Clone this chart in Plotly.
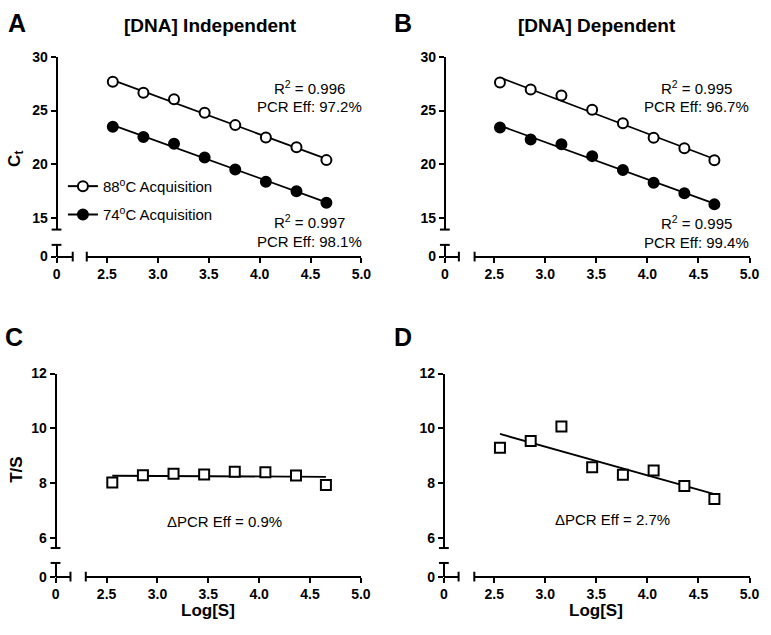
import numpy as np
import plotly.graph_objects as go

W, H = 771, 635
FONT = "Liberation Sans, Arial, sans-serif"

# ---------------- data ----------------
log_s = [2.556, 2.857, 3.158, 3.459, 3.760, 4.061, 4.362, 4.656]
a_88 = [27.68, 26.65, 26.05, 24.79, 23.65, 22.50, 21.60, 20.40]
a_74 = [23.50, 22.54, 21.91, 20.65, 19.53, 18.40, 17.50, 16.44]
b_88 = [27.61, 26.95, 26.41, 25.07, 23.82, 22.47, 21.51, 20.38]
b_74 = [23.43, 22.32, 21.87, 20.77, 19.48, 18.29, 17.33, 16.29]
c_ts = [8.02, 8.28, 8.34, 8.31, 8.41, 8.39, 8.27, 7.92]
d_ts = [9.29, 9.53, 10.06, 8.57, 8.30, 8.45, 7.89, 7.41]

x_ticks = [2.5, 3.0, 3.5, 4.0, 4.5, 5.0]
ct_ticks = [15, 20, 25, 30]
ts_ticks = [6, 8, 10, 12]

fig = go.Figure()

# panel geometry in pixels
panels = [
    dict(yx=53.5, xl_end=70.0, xr_start=84.3, x25=105.0, x50=364.0,
         ytop_val=30, ytop_px=50.0, ybot_val=15, ybot_px=215.7, yup_end=227.3, ylo_top=243.0, y0=255.0,
         yticks=ct_ticks),
    dict(yx=449.0, xl_end=463.3, xr_start=479.3, x25=499.3, x50=759.3,
         ytop_val=30, ytop_px=50.0, ybot_val=15, ybot_px=215.7, yup_end=227.3, ylo_top=243.0, y0=255.0,
         yticks=ct_ticks),
    dict(yx=52.5, xl_end=67.7, xr_start=83.3, x25=104.5, x50=363.5,
         ytop_val=12, ytop_px=375.0, ybot_val=6, ybot_px=543.3, yup_end=554.0, ylo_top=569.3, y0=583.3,
         yticks=ts_ticks),
    dict(yx=448.0, xl_end=463.0, xr_start=479.0, x25=499.3, x50=759.3,
         ytop_val=12, ytop_px=375.0, ybot_val=6, ybot_px=543.3, yup_end=554.0, ylo_top=569.3, y0=583.3,
         yticks=ts_ticks),
]

def fx(px):
    return px / W

def fy(py):
    return 1 - py / H

axis_common = dict(showline=True, linecolor="black", linewidth=2, ticks="outside",
                   ticklen=5, tickwidth=2, tickcolor="black", showgrid=False, zeroline=False,
                   tickfont=dict(family=FONT, size=14, color="black", weight="bold"),
                   fixedrange=True)
shapes = []
layout_axes = {}
for i, p in enumerate(panels):
    xl, xr = 2 * i + 1, 2 * i + 2
    yl, yu = 2 * i + 1, 2 * i + 2
    xscale = (p["x50"] - p["x25"]) / 2.5
    yscale = (p["ybot_px"] - p["ytop_px"]) / (p["ytop_val"] - p["ybot_val"])
    layout_axes[f"xaxis{xl}"] = dict(axis_common, domain=[fx(p["yx"]), fx(p["xl_end"])],
                                    range=[0, (p["xl_end"] - p["yx"]) / xscale],
                                    tickvals=[0], ticktext=["0"], anchor="free", position=fy(p["y0"]))
    layout_axes[f"xaxis{xr}"] = dict(axis_common, domain=[fx(p["xr_start"]), fx(p["x50"])],
                                    range=[2.5 - (p["x25"] - p["xr_start"]) / xscale, 5.0],
                                    tickvals=x_ticks, ticktext=[f"{v:.1f}" for v in x_ticks],
                                    anchor="free", position=fy(p["y0"]))
    layout_axes[f"yaxis{yl}"] = dict(axis_common, domain=[fy(p["y0"]), fy(p["ylo_top"])],
                                    range=[0, (p["y0"] - p["ylo_top"]) / yscale],
                                    tickvals=[0], ticktext=["0"], anchor="free", position=fx(p["yx"]))
    layout_axes[f"yaxis{yu}"] = dict(axis_common, domain=[fy(p["yup_end"]), fy(p["ytop_px"])],
                                    range=[p["ybot_val"] - (p["yup_end"] - p["ybot_px"]) / yscale, p["ytop_val"]],
                                    tickvals=p["yticks"], ticktext=[str(v) for v in p["yticks"]],
                                    anchor="free", position=fx(p["yx"]))
    fig.add_trace(go.Scatter(x=[None], y=[None], xaxis=f"x{xl}", yaxis=f"y{yl}",
                             showlegend=False, hoverinfo="skip"))
    c = 5
    line = dict(color="black", width=2)
    shapes += [
        dict(type="line", xref="paper", yref="paper", x0=fx(p["yx"] - c), x1=fx(p["yx"] + c),
             y0=fy(p["yup_end"]), y1=fy(p["yup_end"]), line=line),
        dict(type="line", xref="paper", yref="paper", x0=fx(p["yx"] - c), x1=fx(p["yx"] + c),
             y0=fy(p["ylo_top"]), y1=fy(p["ylo_top"]), line=line),
        dict(type="line", xref="paper", yref="paper", x0=fx(p["xl_end"]), x1=fx(p["xl_end"]),
             y0=fy(p["y0"] - c), y1=fy(p["y0"] + c), line=line),
        dict(type="line", xref="paper", yref="paper", x0=fx(p["xr_start"]), x1=fx(p["xr_start"]),
             y0=fy(p["y0"] - c), y1=fy(p["y0"] + c), line=line),
    ]

def add_fit(xs, ys, ax):
    k, b = np.polyfit(xs, ys, 1)
    xe = [xs[0], xs[-1]]
    fig.add_trace(go.Scatter(x=xe, y=[k * v + b for v in xe], mode="lines",
                             line=dict(color="black", width=1.8),
                             xaxis=f"x{ax}", yaxis=f"y{ax}", showlegend=False, hoverinfo="skip"))

def add_pts(xs, ys, ax, symbol, fill):
    fig.add_trace(go.Scatter(x=xs, y=ys, mode="markers",
                             marker=dict(symbol=symbol, size=10, color=fill,
                                         line=dict(color="black", width=2)),
                             xaxis=f"x{ax}", yaxis=f"y{ax}", showlegend=False))

add_fit(log_s, a_88, 2); add_fit(log_s, a_74, 2)
add_pts(log_s, a_88, 2, "circle", "white"); add_pts(log_s, a_74, 2, "circle", "black")
add_fit(log_s, b_88, 4); add_fit(log_s, b_74, 4)
add_pts(log_s, b_88, 4, "circle", "white"); add_pts(log_s, b_74, 4, "circle", "black")
add_fit(log_s, c_ts, 6); add_pts(log_s, c_ts, 6, "square", "white")
add_fit(log_s, d_ts, 8); add_pts(log_s, d_ts, 8, "square", "white")

fig.add_trace(go.Scatter(x=[None], y=[None], mode="lines+markers", name="88<sup>o</sup>C Acquisition",
                         marker=dict(symbol="circle", size=10, color="white", line=dict(color="black", width=2)),
                         line=dict(color="black", width=2), xaxis="x2", yaxis="y2", legend="legend"))
fig.add_trace(go.Scatter(x=[None], y=[None], mode="lines+markers", name="74<sup>o</sup>C Acquisition",
                         marker=dict(symbol="circle", size=10, color="black", line=dict(color="black", width=2)),
                         line=dict(color="black", width=2), xaxis="x2", yaxis="y2", legend="legend2"))

leg_font = dict(family=FONT, size=15, color="black")
legend_common = dict(xanchor="left", yanchor="middle", bgcolor="rgba(0,0,0,0)", borderwidth=0,
                     font=leg_font, itemclick=False, itemdoubleclick=False)

ann = []
def text(x, y, s, size=15, bold=False, angle=0, xanchor="center"):
    ann.append(dict(x=fx(x), y=fy(y), xref="paper", yref="paper", text=s, showarrow=False,
                    xanchor=xanchor, yanchor="middle", textangle=angle,
                    font=dict(family=FONT, size=size, color="black", weight="bold" if bold else "normal")))

text(13, 15, "A", 25, True)
text(406, 15, "B", 25, True)
text(10, 337, "C", 25, True)
text(406, 337, "D", 25, True)
text(210, 18, "[DNA] Independent", 19, True)
text(604, 18, "[DNA] Dependent", 19, True)
text(12, 155, "C<sub>t</sub>", 17, True, -90)
text(12, 474, "T/S", 17, True, -90)
text(208, 618, "Log[S]", 17, True)
text(603, 618, "Log[S]", 17, True)
text(311, 82, "R<sup>2</sup> = 0.996")
text(311, 101.5, "PCR Eff: 97.2%")
text(311, 219.5, "R<sup>2</sup> = 0.997")
text(311, 239.5, "PCR Eff: 98.1%")
text(705, 82, "R<sup>2</sup> = 0.995")
text(705, 101.5, "PCR Eff: 96.7%")
text(705, 220.5, "R<sup>2</sup> = 0.995")
text(705, 240.5, "PCR Eff: 99.4%")
text(225, 527, "ΔPCR Eff = 0.9%")
text(620, 525, "ΔPCR Eff = 2.7%")

fig.update_layout(
    width=W, height=H, margin=dict(l=0, r=0, t=0, b=0),
    paper_bgcolor="white", plot_bgcolor="white",
    showlegend=True,
    legend=dict(legend_common, x=fx(60), y=fy(183)),
    legend2=dict(legend_common, x=fx(60), y=fy(212)),
    shapes=shapes, annotations=ann,
    **layout_axes,
)

post = (
    "document.documentElement.style.margin='0';"
    "document.documentElement.style.overflow='hidden';"
    "document.body.style.margin='0';document.body.style.padding='0';"
    "document.body.style.overflow='hidden';"
    "var d=document.getElementById('{plot_id}');"
    "d.style.position='fixed';d.style.left='0px';d.style.top='0px';"
)
fig.write_html("out.html", config={"displayModeBar": False}, post_script=post)
